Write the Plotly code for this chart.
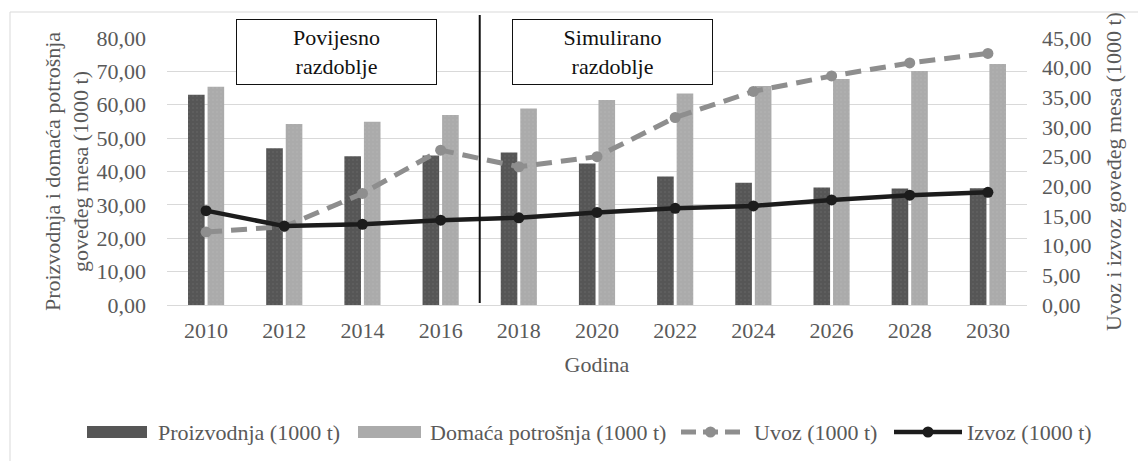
import plotly.graph_objects as go

# Data
godine = ['2010', '2012', '2014', '2016', '2018', '2020', '2022', '2024', '2026', '2028', '2030']
proizvodnja = [63.0, 47.0, 44.6, 44.8, 45.7, 42.4, 38.5, 36.6, 35.2, 34.9, 35.0]
domaca_potrosnja = [65.4, 54.2, 54.9, 56.9, 58.9, 61.4, 63.4, 65.6, 67.7, 70.1, 72.2]
uvoz = [12.3, 13.2, 18.8, 26.1, 23.3, 25.0, 31.6, 36.0, 38.6, 40.8, 42.4]
izvoz = [15.9, 13.3, 13.6, 14.3, 14.7, 15.6, 16.3, 16.7, 17.7, 18.5, 19.0]

FONT = 'Liberation Serif'
GRAY = '#595959'
FS = 22
DARK = '#565656'
LIGHT = '#ababab'
UVOZ_C = '#8e8e8e'
IZVOZ_C = '#1c1c1c'

# target plot area on the page, in pixels (the page body adds an 8px offset)
OFF = 8
L, R, T, B = 167, 1027, 38, 305
W, H = 1146 - OFF, 461 - OFF

def px(x):
    return (x - L) / (R - L)

def py(y):
    return (B - y) / (B - T)

fig = go.Figure()

# Bars on the left axis
fig.add_trace(go.Bar(
    x=godine, y=proizvodnja, name='Proizvodnja (1000 t)',
    marker=dict(color=DARK, line=dict(width=0),
                pattern=dict(shape='.', fgcolor='#6a6a6a', bgcolor=DARK, size=4, solidity=0.2)),
))
fig.add_trace(go.Bar(
    x=godine, y=domaca_potrosnja, name='Domaća potrošnja (1000 t)',
    marker=dict(color=LIGHT, line=dict(width=0),
                pattern=dict(shape='.', fgcolor='#b6b6b6', bgcolor=LIGHT, size=4, solidity=0.2)),
))

# Lines on the right axis
fig.add_trace(go.Scatter(
    x=godine, y=uvoz, name='Uvoz (1000 t)', yaxis='y2', mode='lines+markers',
    line=dict(color=UVOZ_C, width=5, dash='16px,9px'),
    marker=dict(color=UVOZ_C, size=11),
))
fig.add_trace(go.Scatter(
    x=godine, y=izvoz, name='Izvoz (1000 t)', yaxis='y2', mode='lines+markers',
    line=dict(color=IZVOZ_C, width=4.5),
    marker=dict(color=IZVOZ_C, size=11),
))

# Divider between historical and simulated period
fig.add_shape(type='line', xref='x', yref='paper', x0=3.5, x1=3.5, y0=py(303), y1=py(15),
              line=dict(color='#111111', width=2))

# Outer chart frame
fig.add_shape(type='rect', xref='paper', yref='paper', x0=px(10), x1=px(1160), y0=py(475), y1=py(12),
              line=dict(color='#d9d9d9', width=1), layer='below')

# Period labels
for txt, xc in [('Povijesno<br>razdoblje', 336.5), ('Simulirano<br>razdoblje', 612.5)]:
    fig.add_annotation(text=txt, xref='paper', yref='paper', x=px(xc), y=py(52),
                       xanchor='center', yanchor='middle',
                       showarrow=False, width=197, height=62, bgcolor='white',
                       bordercolor='#111111', borderwidth=1, borderpad=1,
                       font=dict(family=FONT, size=FS, color='#111111'))

# Legend drawn by hand so the swatches are wide like in the original
LEG_Y = 432
ly = py(LEG_Y)
dy = 6 / (B - T)
legend_items = [
    ('bar', DARK, 87, 147, 156, 'Proizvodnja (1000 t)'),
    ('bar', LIGHT, 358, 421, 428, 'Domaća potrošnja (1000 t)'),
    ('dash', UVOZ_C, 681, 740, 752, 'Uvoz (1000 t)'),
    ('solid', IZVOZ_C, 894, 962, 965, 'Izvoz (1000 t)'),
]
for kind, col, x0, x1, xt, label in legend_items:
    if kind == 'bar':
        fig.add_shape(type='rect', xref='paper', yref='paper', x0=px(x0), x1=px(x1),
                      y0=ly - dy, y1=ly + dy, fillcolor=col, line=dict(width=0))
    else:
        fig.add_shape(type='line', xref='paper', yref='paper', x0=px(x0), x1=px(x1), y0=ly, y1=ly,
                      line=dict(color=col, width=5 if kind == 'dash' else 4.5,
                                dash='15px,7px' if kind == 'dash' else 'solid'))
        xm = (x0 + x1) / 2
        fig.add_shape(type='circle', xref='paper', yref='paper',
                      x0=px(xm - 5.5), x1=px(xm + 5.5), y0=py(LEG_Y + 5.5), y1=py(LEG_Y - 5.5),
                      fillcolor=col, line=dict(width=0))
    fig.add_annotation(text=label, xref='paper', yref='paper', x=px(xt), y=ly,
                       xanchor='left', yanchor='middle', showarrow=False,
                       font=dict(family=FONT, size=FS, color=GRAY))

fig.update_layout(
    width=W, height=H,
    margin=dict(l=L - OFF, r=W - (R - OFF), t=T - OFF, b=H - (B - OFF), autoexpand=False),
    paper_bgcolor='white', plot_bgcolor='white',
    separators=',.',
    font=dict(family=FONT, size=FS, color=GRAY),
    barmode='group', bargap=0.5, bargroupgap=0.15,
    showlegend=False,
    xaxis=dict(
        title=dict(text='Godina', font=dict(family=FONT, size=FS, color=GRAY), standoff=14),
        range=[-0.5, len(godine) - 0.5],
        showgrid=False, showline=True, linecolor='#d9d9d9', linewidth=1,
        ticks='', ticklabelstandoff=6, automargin=False,
        tickfont=dict(family=FONT, size=FS, color=GRAY),
    ),
    yaxis=dict(
        title=dict(text='Proizvodnja i domaća potrošnja<br>goveđeg mesa (1000 t)',
                   font=dict(family=FONT, size=FS, color=GRAY), standoff=1),
        range=[0, 80], dtick=10, tickformat='.2f',
        showgrid=True, gridcolor='#d9d9d9', gridwidth=1, zeroline=False,
        ticks='', ticklabelstandoff=20, automargin=False,
        tickfont=dict(family=FONT, size=FS, color=GRAY),
    ),
    yaxis2=dict(
        title=dict(text='Uvoz i izvoz goveđeg mesa (1000 t)',
                   font=dict(family=FONT, size=FS, color=GRAY), standoff=15),
        overlaying='y', side='right', range=[0, 45], dtick=5, tickformat='.2f',
        showgrid=False, zeroline=False,
        ticks='', ticklabelstandoff=14, automargin=False,
        tickfont=dict(family=FONT, size=FS, color=GRAY),
    ),
)

fig.write_html('out.html')
